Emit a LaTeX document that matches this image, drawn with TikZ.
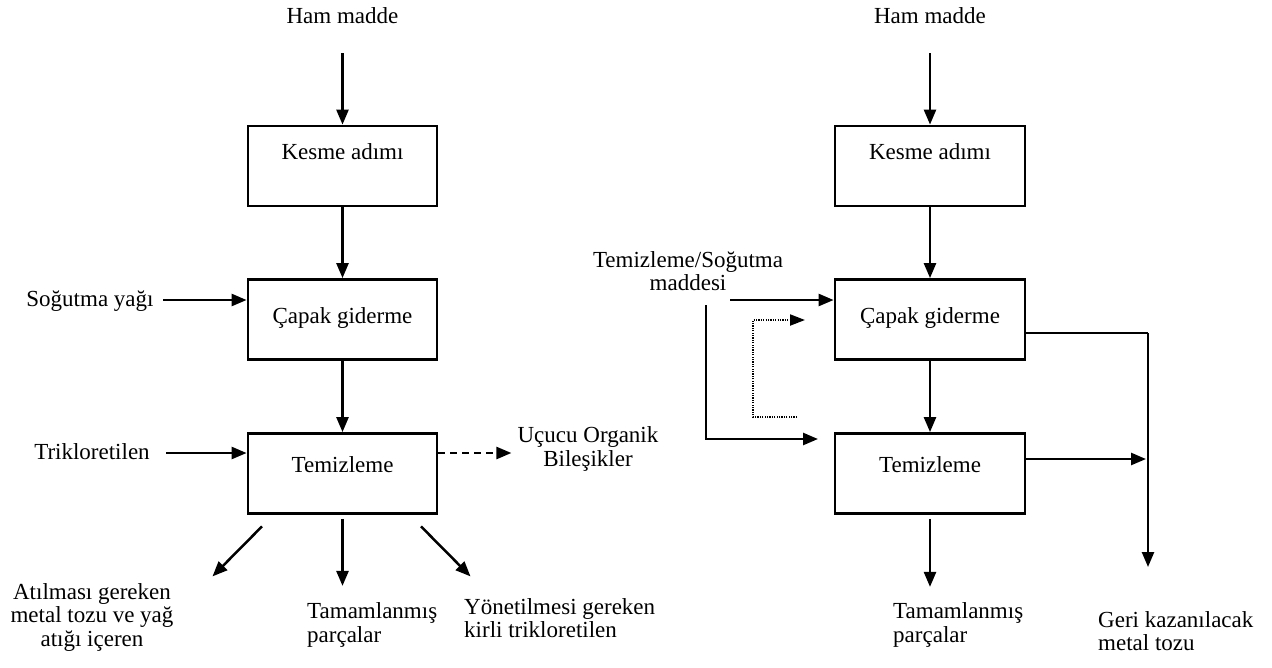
\documentclass[tikz,border=0pt]{standalone}
\usepackage{fontspec}
\setmainfont{Liberation Serif}
\usetikzlibrary{arrows.meta,calc}
\begin{document}
\begin{tikzpicture}[x=1pt,y=-1pt,
  every node/.style={font=\fontsize{23}{23.5}\selectfont, inner sep=0pt},
  txt/.style={text height=0.68em, text depth=0.2em},
  procbox/.style={draw, line width=2.8pt, minimum width=189pt, minimum height=80pt},
  flow/.style={line width=2.5pt, -{Triangle[length=15pt,width=12pt]}},
  plainline/.style={line width=2.5pt},
  dashflow/.style={flow, dash pattern=on 7pt off 5pt},
  dotflow/.style={line width=2pt, dash pattern=on 1.2pt off 1.2pt, -{Triangle[length=15pt,width=11pt]}}
]
\useasboundingbox (0,0) rectangle (1272,667);

% ---------------- left process ----------------
\node[txt] (ham1) at (342.5,21) {Ham madde};
\node[procbox] (k1) at (342.5,166) {};
\node[txt] (k1t) at (342.5,157) {Kesme adımı};
\node[procbox] (c1) at (342.5,319.5) {};
\node[txt] (c1t) at (342.5,321) {Çapak giderme};
\node[procbox] (t1) at (342.5,473.5) {};
\node[txt] (t1t) at (342.5,470) {Temizleme};

\node[txt] (sy) at (90,304) {Soğutma yağı};
\node[txt] (tr) at (92,457) {Trikloretilen};
\node[align=center] (voc) at (588,449) {Uçucu Organik\\Bileşikler};

\node[align=center] (waste) at (92,617) {Atılması gereken\\metal tozu ve yağ\\atığı içeren};
\node[align=left, anchor=west] (fin1) at (307,625) {Tamamlanmış\\parçalar};
\node[align=left, anchor=west] (tce) at (464,618) {Yönetilmesi gereken\\kirli trikloretilen};

% free ends of the side feeds
\coordinate (syo) at (163,300);
\coordinate (tro) at (166,453);

\draw[flow, shorten <=32pt] (ham1.center) -- (k1.north);
\draw[flow] (k1.south) -- (c1.north);
\draw[flow] (c1.south) -- (t1.north);
\draw[flow] (syo) -- (syo -| c1.west);
\draw[flow] (tro) -- (tro -| t1.west);
\draw[dashflow] (tro -| t1.east) -- ++(73,0);
\draw[flow] ($(t1.south)+(-80.5,11.5)$) -- ++(-49.5,50);
\draw[flow] ($(t1.south)+(0,4)$) -- ++(0,67);
\draw[flow] ($(t1.south)+(78.5,11.5)$) -- ++(49.5,50);

% ---------------- right process ----------------
\node[txt] (ham2) at (930,21) {Ham madde};
\node[procbox, minimum width=190pt] (k2) at (930,166) {};
\node[txt] (k2t) at (930,157) {Kesme adımı};
\node[procbox, minimum width=190pt] (c2) at (930,319.5) {};
\node[txt] (c2t) at (930,321) {Çapak giderme};
\node[procbox, minimum width=190pt] (t2) at (930,473.5) {};
\node[txt] (t2t) at (930,470) {Temizleme};

\node[align=center] (agent) at (688,271) {Temizleme/Soğutma\\maddesi};
\node[align=left, anchor=west] (fin2) at (893,625) {Tamamlanmış\\parçalar};
\node[align=left, anchor=west] (metal) at (1098,631) {Geri kazanılacak\\metal tozu};

\coordinate (a1) at (730,300);
\coordinate (a2) at (706,305);
\coordinate (d1) at (797,417);
\coordinate (m1) at (1148,333);

\draw[flow, shorten <=32pt] (ham2.center) -- (k2.north);
\draw[flow] (k2.south) -- (c2.north);
\draw[flow] (c2.south) -- (t2.north);
\draw[flow] (a1) -- (a1 -| c2.west);
\draw[flow] (a2) -- (a2 |- 0,439) -- (818,439);
\draw[dotflow] (d1) -- (753,417) -- (753,320) -- (805,320);
\draw[plainline] (c2.east |- m1) -- (m1);
\draw[flow] (m1) -- (1148,567);
\draw[flow] (t2.east |- 0,459) -- (1146,459);
\draw[flow] ($(t2.south)+(0,4)$) -- ++(0,68);
\end{tikzpicture}
\end{document}
